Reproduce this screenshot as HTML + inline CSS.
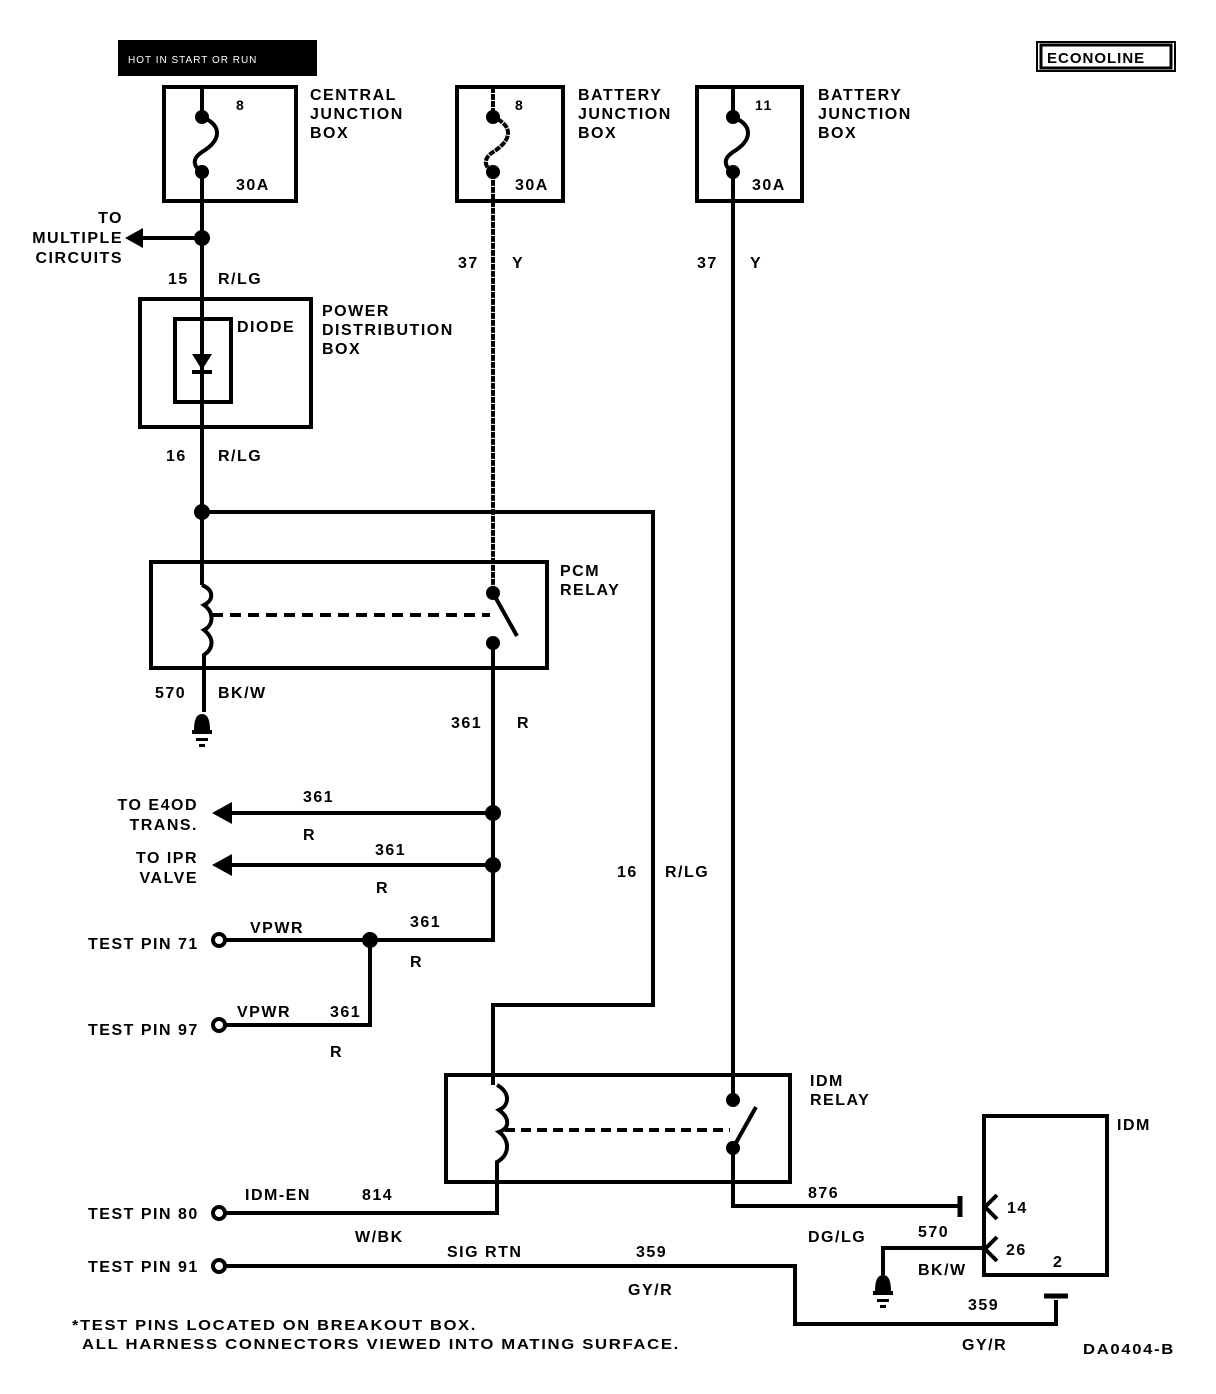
<!DOCTYPE html>
<html><head><meta charset="utf-8"><style>
html,body{margin:0;padding:0;background:#fff;}
svg{display:block;}
text{font-family:"Liberation Sans",sans-serif;font-size:16px;font-weight:bold;fill:#000;letter-spacing:1.5px;}
</style></head><body>
<svg width="1216" height="1394" viewBox="0 0 1216 1394" xmlns="http://www.w3.org/2000/svg">
<g fill="none" stroke="#000" stroke-width="4">
<rect x="120" y="42" width="195" height="32" fill="#000"/>
<rect x="1037" y="42" width="138" height="29" stroke-width="2"/>
<rect x="1041" y="45" width="130" height="23" stroke-width="3"/>
<rect x="164" y="87" width="132" height="114"/>
<rect x="457" y="87" width="106" height="114"/>
<rect x="697" y="87" width="105" height="114"/>
<path d="M202 87 V117 C222 125 222 140 202 152 C190 160 195 168 202 172 V238"/>
<path d="M493 87 V117 C513 125 513 140 493 152 C481 160 486 168 493 172 V590" stroke-dasharray="6 1"/>
<path d="M733 87 V117 C753 125 753 140 733 152 C721 160 726 168 733 172 V1100"/>
<path d="M202 238 H135"/>
<path d="M202 238 V512"/>
<rect x="140" y="299" width="171" height="128"/>
<rect x="175" y="319" width="56" height="83"/>
<path d="M202 512 H653 V1005 H493 V1085"/>
<path d="M202 512 V585"/>
<rect x="151" y="562" width="396" height="106"/>
<path d="M202 585 C214 590 214 600 204 605 C214 612 214 625 204 630 C214 638 214 648 204 655 V712"/>
<path d="M212 615 H490" stroke-dasharray="11 7"/>
<path d="M493 593 L517 636"/>
<path d="M493 643 V940 H220"/>
<path d="M493 813 H225"/>
<path d="M493 865 H225"/>
<path d="M370 940 V1025 H225"/>
<rect x="446" y="1075" width="344" height="107"/>
<path d="M497 1085 C510 1092 510 1105 499 1110 C510 1118 510 1128 499 1132 C510 1140 510 1155 497 1162 V1213 H225"/>
<path d="M505 1130 H730" stroke-dasharray="10 6"/>
<path d="M733 1148 L756 1107"/>
<path d="M733 1148 V1206 H958"/>
<rect x="984" y="1116" width="123" height="159"/>
<path d="M982 1248 H883 V1275"/>
<path d="M225 1266 H795 V1324 H1056 V1300"/>
<path d="M1044 1296 H1068" stroke-width="5"/>
<path d="M960 1196 V1217" stroke-width="5"/>
<path d="M997 1195 L985 1207 L997 1219"/>
<path d="M997 1237 L985 1249 L997 1261"/>
</g>
<g fill="#000">
<circle cx="202" cy="117" r="7"/><circle cx="202" cy="172" r="7"/>
<circle cx="493" cy="117" r="7"/><circle cx="493" cy="172" r="7"/>
<circle cx="733" cy="117" r="7"/><circle cx="733" cy="172" r="7"/>
<circle cx="202" cy="238" r="8"/>
<circle cx="202" cy="512" r="8"/>
<circle cx="493" cy="593" r="7"/><circle cx="493" cy="643" r="7"/>
<circle cx="493" cy="813" r="8"/><circle cx="493" cy="865" r="8"/>
<circle cx="370" cy="940" r="8"/>
<circle cx="733" cy="1100" r="7"/><circle cx="733" cy="1148" r="7"/>
<polygon points="125,238 143,228 143,248"/>
<polygon points="212,813 232,802 232,824"/>
<polygon points="212,865 232,854 232,876"/>
<polygon points="192,354 212,354 202,370"/>
<rect x="192" y="370" width="20" height="4"/>
<rect x="200" y="319" width="4" height="83"/>
<path d="M194 730 Q194 714 202 714 Q210 714 210 730 Z"/>
<rect x="192" y="730" width="20" height="4"/><rect x="196" y="738" width="12" height="3"/><rect x="199" y="744" width="6" height="3"/>
<path d="M875 1291 Q875 1275 883 1275 Q891 1275 891 1291 Z"/>
<rect x="873" y="1291" width="20" height="4"/><rect x="877" y="1299" width="12" height="3"/><rect x="880" y="1305" width="6" height="3"/>
</g>
<g fill="#fff" stroke="#000" stroke-width="4">
<circle cx="219" cy="940" r="6"/><circle cx="219" cy="1025" r="6"/>
<circle cx="219" cy="1213" r="6"/><circle cx="219" cy="1266" r="6"/>
</g>
<text x="128" y="63" style="fill:#fff;font-size:10px;font-weight:normal;letter-spacing:1px">HOT IN START OR RUN</text>
<text x="1047" y="63" style="font-size:15px;letter-spacing:1px">ECONOLINE</text>
<text x="236" y="110" style="font-size:14px">8</text><text x="236" y="190">30A</text>
<text x="515" y="110" style="font-size:14px">8</text><text x="515" y="190">30A</text>
<text x="755" y="110" style="font-size:14px">11</text><text x="752" y="190">30A</text>
<text x="310" y="100">CENTRAL</text><text x="310" y="119">JUNCTION</text><text x="310" y="138">BOX</text>
<text x="578" y="100">BATTERY</text><text x="578" y="119">JUNCTION</text><text x="578" y="138">BOX</text>
<text x="818" y="100">BATTERY</text><text x="818" y="119">JUNCTION</text><text x="818" y="138">BOX</text>
<g text-anchor="end"><text x="123" y="223">TO</text><text x="123" y="243">MULTIPLE</text><text x="123" y="263">CIRCUITS</text>
<text x="198" y="810">TO E4OD</text><text x="198" y="830">TRANS.</text>
<text x="198" y="863">TO IPR</text><text x="198" y="883">VALVE</text></g>
<text x="168" y="284">15</text><text x="218" y="284">R/LG</text>
<text x="458" y="268">37</text><text x="512" y="268">Y</text>
<text x="697" y="268">37</text><text x="750" y="268">Y</text>
<text x="237" y="332">DIODE</text>
<text x="322" y="316">POWER</text><text x="322" y="335">DISTRIBUTION</text><text x="322" y="354">BOX</text>
<text x="166" y="461">16</text><text x="218" y="461">R/LG</text>
<text x="560" y="576">PCM</text><text x="560" y="595">RELAY</text>
<text x="155" y="698">570</text><text x="218" y="698">BK/W</text>
<text x="451" y="728">361</text><text x="517" y="728">R</text>
<text x="303" y="802">361</text><text x="303" y="840">R</text>
<text x="375" y="855">361</text><text x="376" y="893">R</text>
<text x="617" y="877">16</text><text x="665" y="877">R/LG</text>
<text x="88" y="949">TEST PIN 71</text><text x="250" y="933">VPWR</text>
<text x="410" y="927">361</text><text x="410" y="967">R</text>
<text x="88" y="1035">TEST PIN 97</text><text x="237" y="1017">VPWR</text>
<text x="330" y="1017">361</text><text x="330" y="1057">R</text>
<text x="810" y="1086">IDM</text><text x="810" y="1105">RELAY</text>
<text x="1117" y="1130">IDM</text>
<text x="88" y="1219">TEST PIN 80</text><text x="245" y="1200">IDM-EN</text>
<text x="362" y="1200">814</text><text x="355" y="1242">W/BK</text>
<text x="808" y="1198">876</text><text x="808" y="1242">DG/LG</text>
<text x="1007" y="1213">14</text><text x="1006" y="1255">26</text><text x="1053" y="1267">2</text>
<text x="918" y="1237">570</text><text x="918" y="1275">BK/W</text>
<text x="88" y="1272">TEST PIN 91</text><text x="447" y="1257">SIG RTN</text>
<text x="636" y="1257">359</text><text x="628" y="1295">GY/R</text>
<text x="968" y="1310">359</text><text x="962" y="1350">GY/R</text>
<text x="72" y="1330" style="font-size:15px" textLength="405" lengthAdjust="spacingAndGlyphs">*TEST PINS LOCATED ON BREAKOUT BOX.</text>
<text x="82" y="1349" style="font-size:15px" textLength="598" lengthAdjust="spacingAndGlyphs">ALL HARNESS CONNECTORS VIEWED INTO MATING SURFACE.</text>
<text x="1083" y="1354" style="font-size:15px" textLength="92" lengthAdjust="spacingAndGlyphs">DA0404-B</text>
</svg>
</body></html>
